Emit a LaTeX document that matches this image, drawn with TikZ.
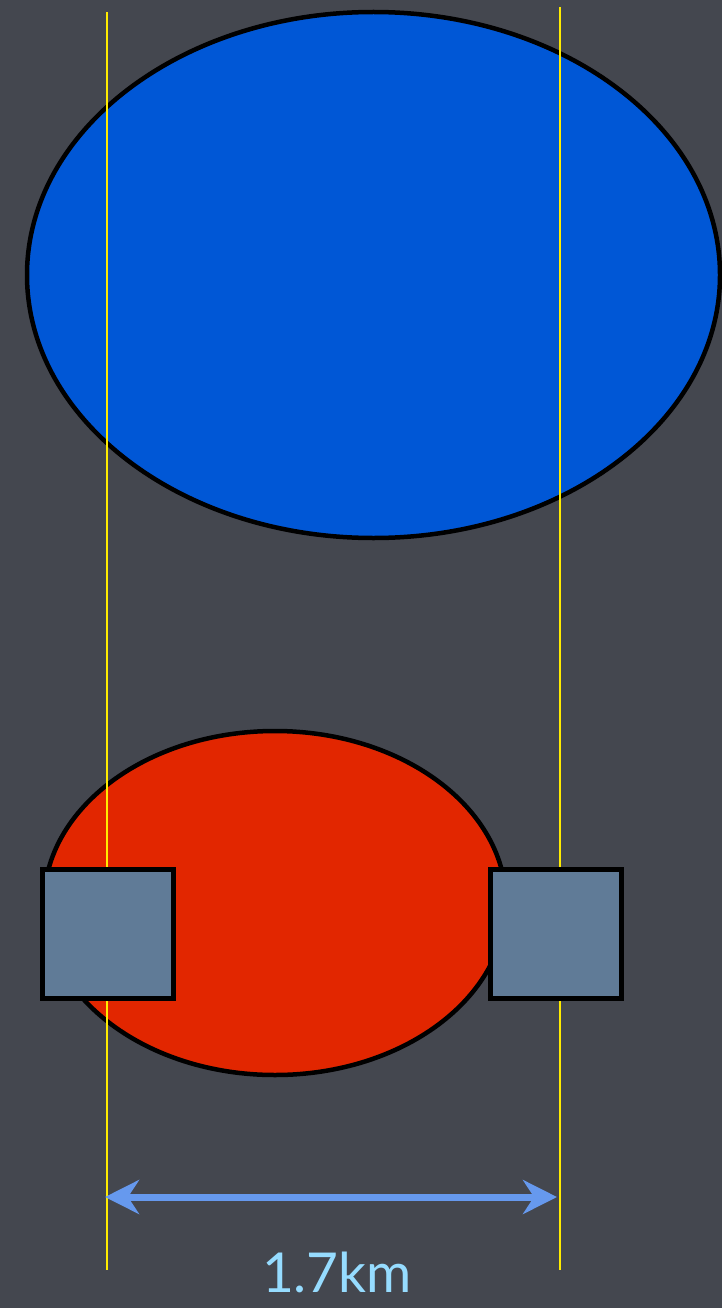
\documentclass[tikz,border=0pt]{standalone}
\usepackage{fontspec}
\setmainfont{Lato}
\usetikzlibrary{shapes.geometric,arrows.meta,positioning}
\usepackage{xcolor}
\definecolor{board}{RGB}{68,71,79}
\definecolor{bigblue}{RGB}{0,87,214}
\definecolor{redblob}{RGB}{226,38,0}
\definecolor{padblue}{RGB}{96,123,151}
\definecolor{spanblue}{RGB}{102,153,238}
\definecolor{labelcyan}{RGB}{150,220,255}
\definecolor{guideyellow}{RGB}{255,236,0}

\begin{document}
\begin{tikzpicture}[
    x=1pt, y=-1pt,
    blob/.style={ellipse, draw=black, line width=4.5pt, inner sep=0pt},
    pad/.style={rectangle, draw=black, line width=5pt, fill=padblue, minimum width=131pt, minimum height=129pt, inner sep=0pt},
    guide/.style={draw=guideyellow, line width=1.8pt},
    >={Stealth[length=34pt, width=34pt, inset=11pt]}
]
    % Background
    \fill[board] (0,0) rectangle (722,1308);
    \useasboundingbox (0,0) rectangle (722,1308);

    % Ellipses
    \node[blob, fill=bigblue, minimum width=693pt, minimum height=526pt] (upper) at (373.5,275) {};
    \node[blob, fill=redblob, minimum width=462pt, minimum height=344pt] (lower) at (275,903) {};

    % Guide lines
    \coordinate (gl top) at (107,12);
    \coordinate (gl bot) at (107,1270);
    \coordinate (gr top) at (560,7);
    \coordinate (gr bot) at (560,1270);
    \draw[guide] (gl top) -- (gl bot);
    \draw[guide] (gr top) -- (gr bot);

    % Squares
    \node[pad] (padL) at (108,934) {};
    \node[pad] (padR) at (556,934) {};

    % Span
    \coordinate (spanL) at (105,1197);
    \coordinate (spanR) at (557,1197);
    \draw[<->, spanblue, line width=7pt] (spanL) -- (spanR);
    \node[text=labelcyan, inner sep=0pt, anchor=base, font=\fontsize{55}{57}\selectfont] (span label) at (337,1292) {1.7km};
\end{tikzpicture}
\end{document}
